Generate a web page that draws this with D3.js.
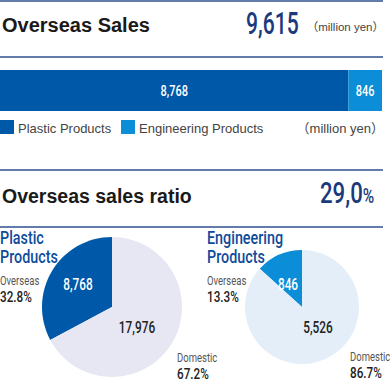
<!DOCTYPE html>
<html><head><meta charset="utf-8">
<script src="https://cdn.jsdelivr.net/npm/d3@7"></script>
<style>html,body{margin:0;padding:0;background:#fff;}svg{display:block;}</style>
</head><body>
<script>
const segments = ["Plastic Products", "Engineering Products"];
const pieTitles = [["Plastic", "Products"], ["Engineering", "Products"]];
const overseasSales = [8768, 846];
const domesticSales = [17976, 5526];
const overseasPct = ["32.8%", "13.3%"];
const domesticPct = ["67.2%", "86.7%"];
const totalOverseasLabel = "9,615";
const ratioLabel = "29,0";
const unitLabel = "（million yen）";

const W = 390, H = 382;
const svg = d3.select("body").append("svg").attr("width", W).attr("height", H);

const DARK = "#0058a9", LIGHT = "#0b8dd8", NAVY = "#1b3a7c", LINE = "#2e4f8c";
const COND = "Roboto, 'Liberation Sans', sans-serif";
const SANS = "'Liberation Sans', Arial, 'Noto Sans CJK JP', sans-serif";
const fmt = d3.format(",");

function ctext(x, y, str, size, weight, fill, anchor, sx) {
  return svg.append("text")
    .attr("transform", `translate(${x},${y}) scale(${sx || 0.8},1)`)
    .attr("font-family", COND).attr("font-size", size).attr("font-weight", weight)
    .attr("fill", fill).attr("text-anchor", anchor || "start").text(str);
}
function stext(x, y, str, size, weight, fill, anchor) {
  return svg.append("text").attr("x", x).attr("y", y)
    .attr("font-family", SANS).attr("font-size", size).attr("font-weight", weight)
    .attr("fill", fill).attr("text-anchor", anchor || "start").text(str);
}

// rules
[1, 57, 170, 227].forEach(y => {
  svg.append("line").attr("x1", 0).attr("x2", 383).attr("y1", y).attr("y2", y)
    .attr("stroke", LINE).attr("stroke-width", 1.6);
});

// header
stext(2, 32, "Overseas Sales", 20, "bold", "#1a1a1a");
ctext(246, 34, totalOverseasLabel, 31, 500, NAVY, "start", 0.68);
stext(384, 31, unitLabel, 11.5, "normal", "#444", "end");

// stacked bar
const total = d3.sum(overseasSales);
const x = d3.scaleLinear().domain([0, total]).range([0, 382]);
const stack = overseasSales.map((v, i) => ({v, i, x0: x(d3.sum(overseasSales.slice(0, i))), x1: x(d3.sum(overseasSales.slice(0, i + 1)))}));
svg.selectAll("rect.bar").data(stack).enter().append("rect").attr("class", "bar")
  .attr("x", d => d.x0).attr("width", d => d.x1 - d.x0)
  .attr("y", 70).attr("height", 41)
  .attr("fill", d => d.i === 0 ? DARK : LIGHT);
stack.forEach(d => ctext((d.x0 + d.x1) / 2, 96, fmt(d.v), 14.5, 500, "#fff", "middle", 0.76));

// legend
const legX = [0, 121];
segments.forEach((s, i) => {
  svg.append("rect").attr("x", legX[i]).attr("y", 120).attr("width", 14).attr("height", 14)
    .attr("fill", i === 0 ? DARK : LIGHT);
  stext(legX[i] + 18, 133, s, 13, "normal", "#444");
});
stext(384, 133, unitLabel, 13, "normal", "#444", "end");

// ratio header
stext(2, 203, "Overseas sales ratio", 19.5, "bold", "#1a1a1a");
const rt = ctext(320, 203, ratioLabel, 30, 500, NAVY, "start", 0.74);
rt.append("tspan").attr("font-size", 21).text("%");

// pies
const pieCfg = [{cx: 112, cy: 307, r: 70, tx: 0, dom: "#e6e7f3", col: DARK,
                 inO: [78, 290], inD: [137, 333], lblD: [177, 362]},
                {cx: 302, cy: 307, r: 57, tx: 207, dom: "#e3eef9", col: LIGHT,
                 inO: [288, 290], inD: [318, 333], lblD: [350, 361]}];
pieCfg.forEach((c, i) => {
  const data = [{k: "o", v: overseasSales[i]}, {k: "d", v: domesticSales[i]}];
  const o = overseasSales[i] / (overseasSales[i] + domesticSales[i]);
  const pie = d3.pie().value(d => d.v).sort(null)
    .startAngle(-o * 2 * Math.PI).endAngle(2 * Math.PI - o * 2 * Math.PI);
  const arc = d3.arc().innerRadius(0).outerRadius(c.r);
  svg.append("g").attr("transform", `translate(${c.cx},${c.cy})`)
    .selectAll("path").data(pie(data)).enter().append("path")
    .attr("d", arc).attr("fill", d => d.data.k === "o" ? c.col : c.dom);
  ctext(c.inO[0], c.inO[1], fmt(overseasSales[i]), 16, 500, "#fff", "middle", 0.74);
  ctext(c.inD[0], c.inD[1], fmt(domesticSales[i]), 16, 500, "#222", "middle", 0.74);
  ctext(c.tx, 244, pieTitles[i][0], 17.5, 500, "#0f4b9b", "start", 0.82);
  ctext(c.tx, 263, pieTitles[i][1], 17.5, 500, "#0f4b9b", "start", 0.82);
  ctext(c.tx, 285, "Overseas", 12.5, 400, "#555", "start", 0.76);
  ctext(c.tx, 302, overseasPct[i], 15, 500, "#222", "start", 0.78);
  ctext(c.lblD[0], c.lblD[1], "Domestic", 12.5, 400, "#555", "start", 0.76);
  ctext(c.lblD[0], c.lblD[1] + 17, domesticPct[i], 15, 500, "#222", "start", 0.78);
});
</script>
</body></html>
